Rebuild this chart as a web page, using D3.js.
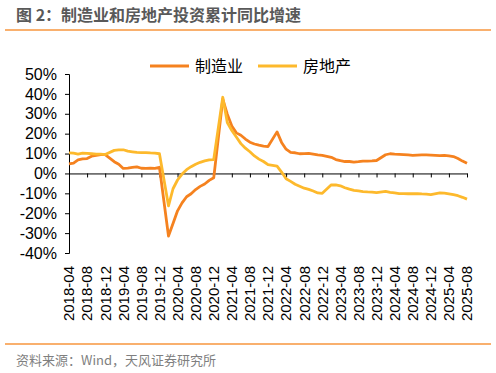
<!DOCTYPE html>
<html>
<head>
<meta charset="utf-8">
<script src="https://cdn.jsdelivr.net/npm/d3@7"></script>
<style>
  body { margin: 0; background: #fff; }
  text { font-family: "Liberation Sans", Arial, "Noto Sans CJK SC", sans-serif; }
  .cjk { font-family: "Noto Sans CJK SC", sans-serif; }
</style>
</head>
<body>
<svg id="chart" width="496" height="373"></svg>
<script>
// months with data (no January figure), 2018-04 .. 2025-08
const months = [
  "2018-04","2018-05","2018-06","2018-07","2018-08","2018-09","2018-10","2018-11","2018-12",
  "2019-02","2019-03","2019-04","2019-05","2019-06","2019-07","2019-08","2019-09","2019-10","2019-11","2019-12",
  "2020-02","2020-03","2020-04","2020-05","2020-06","2020-07","2020-08","2020-09","2020-10","2020-11","2020-12",
  "2021-02","2021-03","2021-04","2021-05","2021-06","2021-07","2021-08","2021-09","2021-10","2021-11","2021-12",
  "2022-02","2022-03","2022-04","2022-05","2022-06","2022-07","2022-08","2022-09","2022-10","2022-11","2022-12",
  "2023-02","2023-03","2023-04","2023-05","2023-06","2023-07","2023-08","2023-09","2023-10","2023-11","2023-12",
  "2024-02","2024-03","2024-04","2024-05","2024-06","2024-07","2024-08","2024-09","2024-10","2024-11","2024-12",
  "2025-02","2025-03","2025-04","2025-05","2025-06","2025-07","2025-08"
];
const manufacturing = [
  4.8,5.2,6.8,7.3,7.5,8.7,9.1,9.5,9.5,
  5.9,4.6,2.5,2.7,3.0,3.3,2.6,2.5,2.6,2.5,3.1,
  -31.5,-25.2,-18.8,-14.8,-11.7,-10.2,-8.1,-6.5,-5.3,-3.5,-2.2,
  37.3,29.8,23.8,20.4,19.2,17.3,15.7,14.8,14.2,13.7,13.5,
  20.9,15.6,12.2,10.6,10.4,9.9,10.0,10.1,9.7,9.3,9.1,
  8.1,7.0,6.4,6.0,6.0,5.7,5.9,6.2,6.2,6.3,6.5,
  9.4,9.9,9.7,9.6,9.5,9.3,9.1,9.2,9.3,9.3,9.2,
  9.0,9.1,8.8,8.5,7.5,6.2,5.1
];
const realEstate = [
  10.3,10.2,9.7,10.2,10.1,9.9,9.7,9.7,9.5,
  11.6,11.8,11.9,11.2,10.9,10.6,10.5,10.5,10.3,10.2,9.9,
  -16.3,-7.7,-3.3,-0.3,1.9,3.4,4.6,5.6,6.3,6.8,7.0,
  38.3,25.6,21.6,18.3,15.0,12.7,10.9,8.8,7.2,6.0,4.4,
  3.7,0.7,-2.7,-4.0,-5.4,-6.4,-7.4,-8.0,-8.8,-9.8,-10.0,
  -5.7,-5.8,-6.2,-7.2,-7.9,-8.5,-8.8,-9.1,-9.3,-9.4,-9.6,
  -9.0,-9.5,-9.8,-10.1,-10.1,-10.2,-10.2,-10.1,-10.3,-10.4,-10.6,
  -9.8,-9.9,-10.3,-10.7,-11.2,-12.0,-12.9
];
const xLabels = [
  "2018-04","2018-08","2018-12","2019-04","2019-08","2019-12","2020-04","2020-08",
  "2020-12","2021-04","2021-08","2021-12","2022-04","2022-08","2022-12","2023-04",
  "2023-08","2023-12","2024-04","2024-08","2024-12","2025-04","2025-08"
];
const yTicks = [50, 40, 30, 20, 10, 0, -10, -20, -30, -40];

const seriesNames = ["制造业", "房地产"];
const colors = ["#F5821F", "#FDB92C"];

// month index counted from 2018-04 (date axis, one unit per month)
function mIdx(s) {
  let p = s.split("-");
  return (+p[0] - 2018) * 12 + (+p[1] - 4);
}

let svg = d3.select("#chart");

// title + rules
svg.append("text").attr("class", "cjk")
  .attr("x", 16).attr("y", 21)
  .attr("font-size", 16).attr("font-weight", "bold").attr("fill", "#595959")
  .text("图 2：制造业和房地产投资累计同比增速");
svg.append("line").attr("x1", 5).attr("x2", 491).attr("y1", 30).attr("y2", 30)
  .attr("stroke", "#F7963E").attr("stroke-width", 1.5);
svg.append("line").attr("x1", 5).attr("x2", 491).attr("y1", 344).attr("y2", 344)
  .attr("stroke", "#F7963E").attr("stroke-width", 1.5);
svg.append("text").attr("class", "cjk")
  .attr("x", 16).attr("y", 365)
  .attr("font-size", 13).attr("fill", "#7f7f7f")
  .text("资料来源：Wind，天风证券研究所");

let xScale = d3.scaleLinear().domain([0, mIdx("2025-08")]).range([69, 467]);
let yScale = d3.scaleLinear().domain([-40, 50]).range([253, 74]);

// y axis
let yAxis = d3.axisLeft(yScale).tickValues(yTicks)
  .tickSize(4).tickPadding(8).tickFormat(d => d + "%");
let gy = svg.append("g").attr("transform", "translate(69,0)").call(yAxis);
gy.select(".domain").attr("stroke", "#000");
gy.selectAll(".tick line").attr("stroke", "#000");
gy.selectAll("text").attr("font-size", 16).attr("fill", "#000")
  .attr("font-family", "'Liberation Sans', Arial, sans-serif");

// x axis at zero, labels drawn at the bottom
let xAxis = d3.axisBottom(xScale).tickValues(xLabels.map(mIdx))
  .tickSize(4).tickSizeOuter(0).tickFormat("");
let gx = svg.append("g").attr("transform", "translate(0," + yScale(0) + ")").call(xAxis);
gx.select(".domain").attr("stroke", "#000");
gx.selectAll(".tick line").attr("stroke", "#000");

svg.append("g").selectAll("text")
  .data(xLabels)
  .enter().append("text")
  .attr("transform", d => "translate(" + xScale(mIdx(d)) + ",266) rotate(-90)")
  .attr("text-anchor", "end")
  .attr("dy", "0.36em")
  .attr("font-size", 15).attr("fill", "#000")
  .text(d => d);

// lines
let series = [manufacturing, realEstate];
let line = d3.line()
  .x((d, i) => xScale(mIdx(months[i])))
  .y(d => yScale(d));

series.forEach((vals, k) => {
  svg.append("path")
    .datum(vals)
    .attr("fill", "none")
    .attr("stroke", colors[k])
    .attr("stroke-width", 2.8)
    .attr("stroke-linejoin", "round")
    .attr("d", line);
});

// legend
let legendX = [150, 258];
seriesNames.forEach((name, k) => {
  svg.append("line")
    .attr("x1", legendX[k]).attr("x2", legendX[k] + 39)
    .attr("y1", 66).attr("y2", 66)
    .attr("stroke", colors[k]).attr("stroke-width", 2.8);
  svg.append("text").attr("class", "cjk")
    .attr("x", legendX[k] + 45).attr("y", 66).attr("dy", "0.35em")
    .attr("font-size", 16).attr("fill", "#000")
    .text(name);
});
</script>
</body>
</html>
